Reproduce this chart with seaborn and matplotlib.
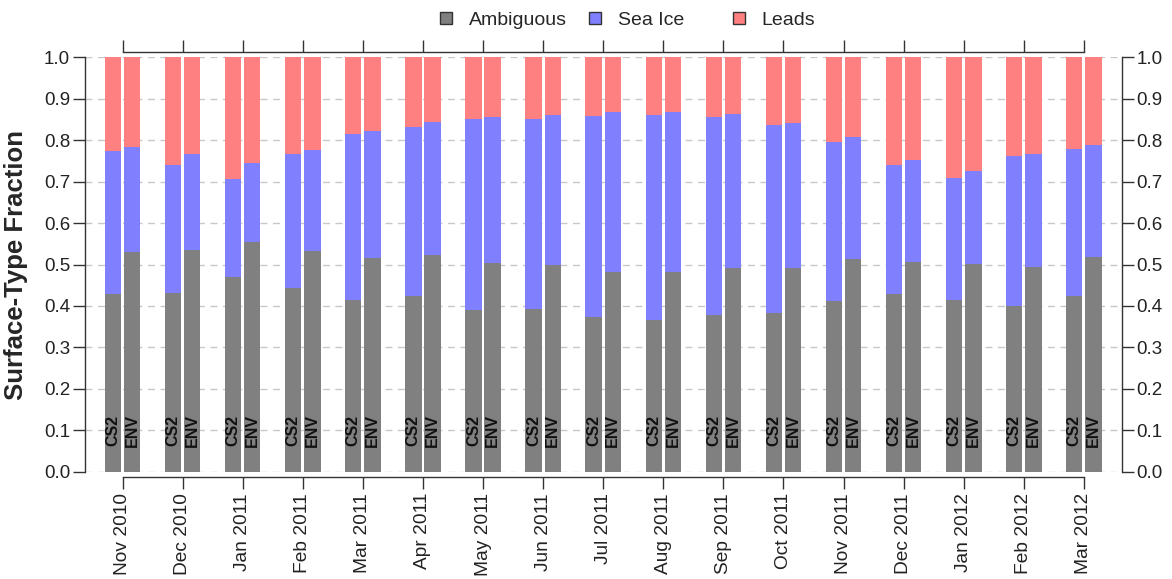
import numpy as np
import pandas as pd
import matplotlib
matplotlib.use("Agg")
import matplotlib.pyplot as plt
from matplotlib.patches import Patch
import seaborn as sns

months = ["Nov 2010", "Dec 2010", "Jan 2011", "Feb 2011", "Mar 2011", "Apr 2011",
          "May 2011", "Jun 2011", "Jul 2011", "Aug 2011", "Sep 2011", "Oct 2011",
          "Nov 2011", "Dec 2011", "Jan 2012", "Feb 2012", "Mar 2012"]
instruments = ["CS2", "ENV"]

cs2_ambiguous = [0.429, 0.432, 0.471, 0.444, 0.415, 0.424, 0.390, 0.392, 0.373,
                 0.366, 0.377, 0.383, 0.413, 0.428, 0.415, 0.401, 0.425]
cs2_sea_ice = [0.346, 0.309, 0.235, 0.323, 0.401, 0.407, 0.460, 0.460, 0.486,
               0.496, 0.480, 0.454, 0.383, 0.313, 0.294, 0.362, 0.354]
cs2_leads = [0.225, 0.259, 0.294, 0.233, 0.184, 0.169, 0.150, 0.148, 0.141,
             0.138, 0.143, 0.163, 0.204, 0.259, 0.291, 0.237, 0.221]

env_ambiguous = [0.531, 0.534, 0.554, 0.533, 0.515, 0.523, 0.503, 0.499, 0.483,
                 0.481, 0.491, 0.491, 0.513, 0.505, 0.501, 0.493, 0.517]
env_sea_ice = [0.253, 0.233, 0.191, 0.244, 0.306, 0.320, 0.354, 0.363, 0.384,
               0.386, 0.373, 0.351, 0.294, 0.248, 0.224, 0.273, 0.271]
env_leads = [0.216, 0.233, 0.255, 0.223, 0.179, 0.157, 0.143, 0.138, 0.133,
             0.133, 0.136, 0.158, 0.193, 0.247, 0.275, 0.234, 0.212]

classes = ["Ambiguous", "Sea Ice", "Leads"]
colors = {"Ambiguous": "#808080", "Sea Ice": "#8080ff", "Leads": "#ff8080"}
y_ticks = [round(0.1 * k, 1) for k in range(11)]

# ---- build long table with cumulative stacks ----
rows = []
for inst, amb, ice, lead in [("CS2", cs2_ambiguous, cs2_sea_ice, cs2_leads),
                             ("ENV", env_ambiguous, env_sea_ice, env_leads)]:
    for m, a, s, l in zip(months, amb, ice, lead):
        rows.append({"month": m, "instrument": inst,
                     "Ambiguous": a, "Sea Ice": a + s, "Leads": a + s + l})
df = pd.DataFrame(rows)

sns.set_style("white")
plt.rcParams["font.family"] = ["Liberation Sans", "DejaVu Sans"]

fig = plt.figure(figsize=(11.72, 5.79), dpi=100)
ax = fig.add_axes([0.0721, 0.1853, 0.8852, 0.7157])

for cls in ["Leads", "Sea Ice", "Ambiguous"]:
    sns.barplot(data=df, x="month", y=cls, hue="instrument", order=months,
                hue_order=instruments, palette={i: colors[cls] for i in instruments},
                saturation=1, width=0.64, gap=0.15, errorbar=None, linewidth=0,
                legend=False, ax=ax)

# instrument labels inside the grey bars
for lab, cont in zip(instruments, ax.containers[-2:]):
    for bar in cont:
        ax.text(bar.get_x() + bar.get_width() / 2, 0.1, lab, rotation=90,
                ha="center", va="center", fontsize=11.5, fontweight="bold",
                color="#111111")

ax.set_xlim(-0.633, len(months) - 1 + 0.633)
ax.set_ylim(0, 1)
ax.set_yticks(y_ticks)
ax.set_yticklabels([f"{v:.1f}" for v in y_ticks])
ax.set_xlabel("")
ax.set_ylabel("Surface-Type Fraction", fontsize=18.5, fontweight="bold")
ax.yaxis.set_label_coords(-0.0545, 0.5)

ax.set_axisbelow(True)
ax.yaxis.grid(True, linestyle=(0, (5, 4)), color="#c8c8c8", linewidth=1)
ax.xaxis.grid(False)

spc = "#333333"
for side in ["left", "right", "top", "bottom"]:
    ax.spines[side].set_visible(True)
    ax.spines[side].set_color(spc)
    ax.spines[side].set_linewidth(1)
ax.spines["left"].set_bounds(0, 1)
ax.spines["right"].set_bounds(0, 1)
ax.spines["bottom"].set_bounds(0, len(months) - 1)
ax.spines["top"].set_bounds(0, len(months) - 1)
ax.spines["bottom"].set_position(("outward", 3.6))
ax.spines["top"].set_position(("outward", 3.6))

ax.tick_params(axis="y", left=True, right=True, labelleft=True, labelright=True,
               direction="out", length=8.3, width=1, color=spc, pad=2,
               labelsize=13.5, labelcolor="#222222")
ax.tick_params(axis="x", bottom=True, top=True, labelbottom=True, labeltop=False,
               direction="out", length=8.3, width=1, color=spc, pad=3.5,
               labelsize=13.8, labelcolor="#222222", labelrotation=90)

handles = [Patch(facecolor=colors[c], edgecolor="#333333", linewidth=1) for c in classes]
leg_kw = dict(frameon=False, fontsize=14, handlelength=0.63, handleheight=0.63,
              handletextpad=0.85, borderpad=0, borderaxespad=0, loc="center left")
fig.legend(handles[:2], classes[:2], ncol=2, columnspacing=1.15,
           bbox_to_anchor=(440 / 1172, 0.965), **leg_kw)
fig.legend(handles[2:], classes[2:], ncol=1,
           bbox_to_anchor=(733 / 1172, 0.965), **leg_kw)

fig.savefig("out.png", dpi=100)
